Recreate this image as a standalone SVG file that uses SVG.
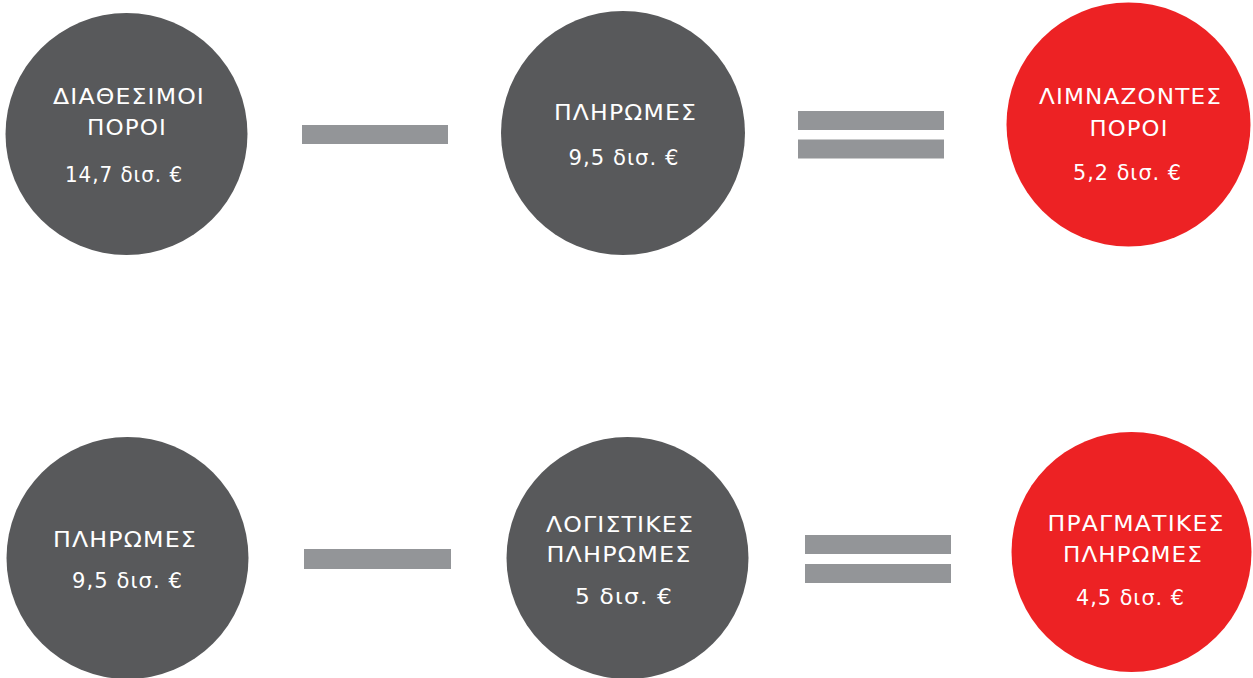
<svg xmlns="http://www.w3.org/2000/svg" width="1253" height="678" viewBox="0 0 1253 678">
<style>
.g{fill:#58595b}
.r{fill:#ed2224}
.bar{fill:#939598}
text{fill:#ffffff;font-family:"DejaVu Sans","Noto Sans",sans-serif;font-size:20.5px;font-weight:normal;text-anchor:middle;letter-spacing:1px}
</style>
<rect width="1253" height="678" fill="#ffffff"/>
<g id="connectors">
<rect class="bar" x="302" y="125" width="146" height="19"/>
<rect class="bar" x="798" y="111" width="146" height="19"/>
<rect class="bar" x="798" y="139.5" width="146" height="19"/>
<rect class="bar" x="304" y="549" width="147" height="20"/>
<rect class="bar" x="805" y="535" width="146" height="19"/>
<rect class="bar" x="805" y="564" width="146" height="19"/>
</g>
<g id="n1">
<circle class="g" cx="126.5" cy="134" r="121"/>
<text x="129" y="104" textLength="152" lengthAdjust="spacingAndGlyphs">ΔΙΑΘΕΣΙΜΟΙ</text>
<text x="127" y="135" textLength="80" lengthAdjust="spacingAndGlyphs">ΠΟΡΟΙ</text>
<text x="124" y="181.5" textLength="118" lengthAdjust="spacingAndGlyphs">14,7 δισ. €</text>
</g>
<g id="n2">
<circle class="g" cx="623" cy="133" r="122"/>
<text x="625.5" y="120" textLength="143" lengthAdjust="spacingAndGlyphs">ΠΛΗΡΩΜΕΣ</text>
<text x="624" y="165" textLength="111" lengthAdjust="spacingAndGlyphs">9,5 δισ. €</text>
</g>
<g id="n3">
<circle class="r" cx="1128.5" cy="124.5" r="122"/>
<text x="1130.5" y="104" textLength="183" lengthAdjust="spacingAndGlyphs">ΛΙΜΝΑΖΟΝΤΕΣ</text>
<text x="1129" y="136" textLength="79" lengthAdjust="spacingAndGlyphs">ΠΟΡΟΙ</text>
<text x="1127.5" y="180" textLength="109" lengthAdjust="spacingAndGlyphs">5,2 δισ. €</text>
</g>
<g id="n4">
<circle class="g" cx="127.5" cy="558" r="121"/>
<text x="125" y="546.5" textLength="144" lengthAdjust="spacingAndGlyphs">ΠΛΗΡΩΜΕΣ</text>
<text x="127.5" y="588" textLength="111" lengthAdjust="spacingAndGlyphs">9,5 δισ. €</text>
</g>
<g id="n5">
<circle class="g" cx="627.5" cy="558" r="121"/>
<text x="620" y="531.5" textLength="148" lengthAdjust="spacingAndGlyphs">ΛΟΓΙΣΤΙΚΕΣ</text>
<text x="619" y="561.5" textLength="145" lengthAdjust="spacingAndGlyphs">ΠΛΗΡΩΜΕΣ</text>
<text x="624" y="604" textLength="98" lengthAdjust="spacingAndGlyphs">5 δισ. €</text>
</g>
<g id="n6">
<circle class="r" cx="1131.5" cy="552" r="120"/>
<text x="1136" y="531" textLength="177" lengthAdjust="spacingAndGlyphs">ΠΡΑΓΜΑΤΙΚΕΣ</text>
<text x="1133" y="561.5" textLength="140" lengthAdjust="spacingAndGlyphs">ΠΛΗΡΩΜΕΣ</text>
<text x="1130.5" y="605" textLength="109" lengthAdjust="spacingAndGlyphs">4,5 δισ. €</text>
</g>
</svg>
